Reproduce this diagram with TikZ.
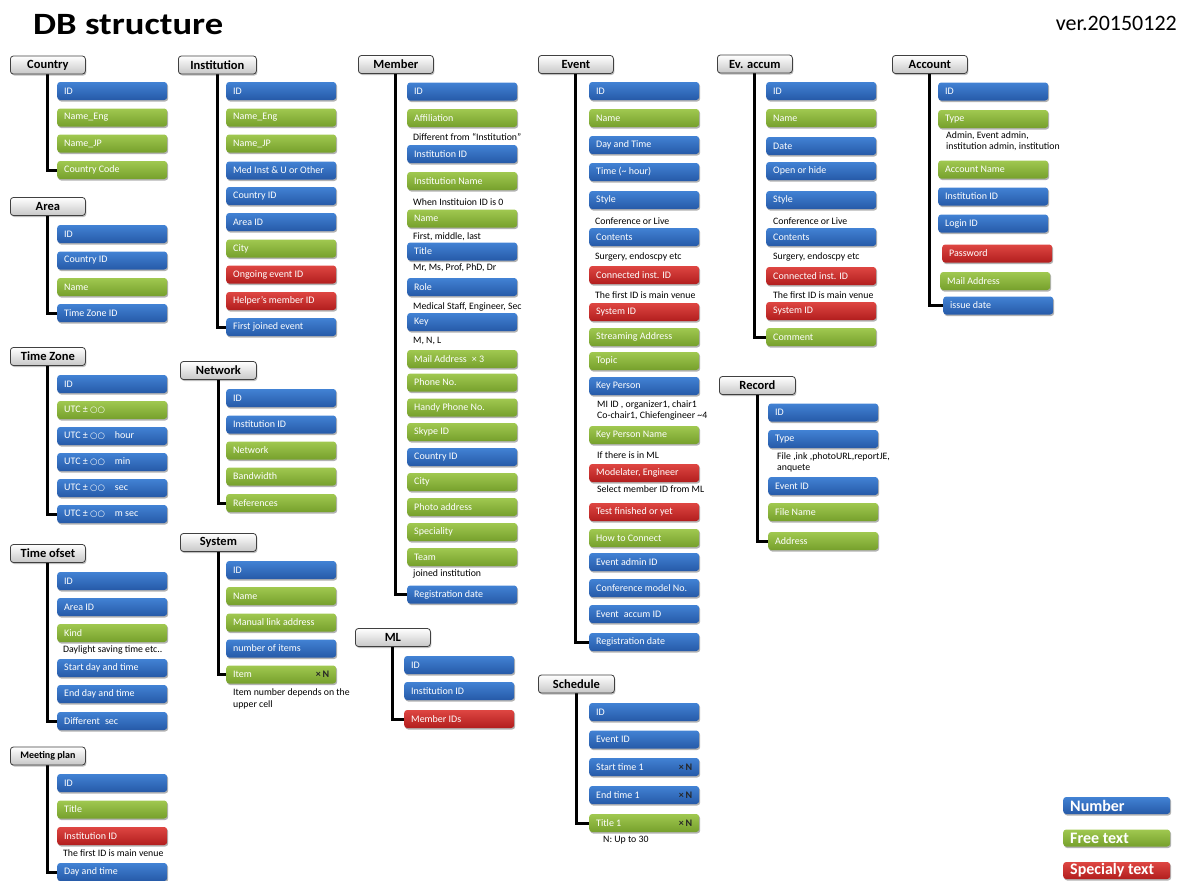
\documentclass[tikz,border=0pt]{standalone}
\usepackage{fontspec}
\usepackage{graphicx}
\setmainfont{Carlito}
\newfontfamily\symfont{DejaVu Sans}
\usetikzlibrary{shadows,backgrounds}

\definecolor{bTop}{RGB}{66,130,212}
\definecolor{bBot}{RGB}{38,90,168}
\definecolor{gTop}{RGB}{160,200,80}
\definecolor{gBot}{RGB}{118,160,44}
\definecolor{rTop}{RGB}{222,70,66}
\definecolor{rBot}{RGB}{178,30,30}

\tikzset{
  x=1pt, y=-1pt,
  field/.style={anchor=west, rounded corners=3pt, minimum height=18pt,
    inner xsep=7pt, inner ysep=0pt, text=white,
    font=\fontsize{10}{11}\selectfont,
    drop shadow={shadow xshift=1pt, shadow yshift=-1.5pt, opacity=0.3, fill=black}},
  num/.style={field, top color=bTop, bottom color=bBot},
  free/.style={field, top color=gTop, bottom color=gBot},
  spec/.style={field, top color=rTop, bottom color=rBot},
  hdr/.style={anchor=west, draw=black!75, line width=0.8pt, rounded corners=3pt,
    minimum width=75pt, minimum height=18pt, inner sep=0pt,
    top color=white, bottom color=black!22,
    font=\bfseries\fontsize{12.5}{14}\selectfont,
    drop shadow={shadow xshift=1pt, shadow yshift=-1.5pt, opacity=0.25, fill=black}},
  note/.style={anchor=west, inner sep=0pt, font=\fontsize{9.8}{11.5}\selectfont},
  conn/.style={line width=3pt},
  legendtext/.style={minimum height=17pt, font=\bfseries\fontsize{16}{18}\selectfont}
}

% one field of a table: style, name, west anchor, text
\newcommand\fld[4]{\node[#1] (#2) at (#3) {\makebox[96pt][l]{#4}};}
\newcommand\timesN{\textcolor{black!85}{\textbf{×\,N}}}
\newcommand\oo{{\symfont\fontsize{8.5}{10}\selectfont ○○}}

\begin{document}
\begin{tikzpicture}
\useasboundingbox (0,0) rectangle (1184,881);

\node[anchor=west, inner sep=0pt] (title) at (33,25)
  {\scalebox{1.18}[1]{\fontsize{31}{36}\selectfont\bfseries DB structure}};
\node[anchor=east, inner sep=0pt] (ver) at (1177,23)
  {\fontsize{22}{26}\selectfont ver.20150122};

% ---------- Country
\node[hdr] (country) at (10,65) {Country};
\fld{num}{co1}{57,91}{ID}
\fld{free}{co2}{57,117.5}{Name\_Eng}
\fld{free}{co3}{57,143.5}{Name\_JP}
\fld{free}{co4}{57,170}{Country Code}

% ---------- Area
\node[hdr] (area) at (10,206.5) {Area};
\fld{num}{ar1}{57,234}{ID}
\fld{num}{ar2}{57,260.5}{Country ID}
\fld{free}{ar3}{57,287}{Name}
\fld{num}{ar4}{57,313}{Time Zone ID}

% ---------- Time Zone
\node[hdr] (tz) at (10,356.5) {Time Zone};
\fld{num}{tz1}{57,384}{ID}
\fld{free}{tz2}{57,410}{UTC ± \oo}
\fld{num}{tz3}{57,436}{UTC ± \oo\quad hour}
\fld{num}{tz4}{57,462}{UTC ± \oo\quad min}
\fld{num}{tz5}{57,488}{UTC ± \oo\quad sec}
\fld{num}{tz6}{57,514}{UTC ± \oo\quad m sec}

% ---------- Time ofset
\node[hdr] (to) at (10,553.5) {Time ofset};
\fld{num}{to1}{57,581}{ID}
\fld{num}{to2}{57,607}{Area ID}
\fld{free}{to3}{57,633}{Kind}
\node[note] (to3n) at (63,650) {Daylight saving time etc..};
\fld{num}{to4}{57,668}{Start day and time}
\fld{num}{to5}{57,694}{End day and time}
\fld{num}{to6}{57,721}{Different\enspace sec}

% ---------- Meeting plan
\node[hdr, font=\bfseries\fontsize{10}{12}\selectfont] (mp) at (10,756) {Meeting plan};
\fld{num}{mp1}{57,783}{ID}
\fld{free}{mp2}{57,809.5}{Title}
\fld{spec}{mp3}{57,836}{Institution ID}
\node[note] (mp3n) at (63,853) {The first ID is main venue};
\fld{num}{mp4}{57,872}{Day and time}

% ---------- Institution
\node[hdr, minimum width=78pt] (inst) at (178,65) {Institution};
\fld{num}{in1}{226,91}{ID}
\fld{free}{in2}{226,117.5}{Name\_Eng}
\fld{free}{in3}{226,143.5}{Name\_JP}
\fld{num}{in4}{226,170.5}{Med Inst \& U or Other}
\fld{num}{in5}{226,196}{Country ID}
\fld{num}{in6}{226,222}{Area ID}
\fld{free}{in7}{226,248.5}{City}
\fld{spec}{in8}{226,274.5}{Ongoing event ID}
\fld{spec}{in9}{226,301}{Helper’s member ID}
\fld{num}{in10}{226,327}{First joined event}

% ---------- Network
\node[hdr, minimum width=76pt] (net) at (180,370.5) {Network};
\fld{num}{ne1}{226,398}{ID}
\fld{num}{ne2}{226,424.5}{Institution ID}
\fld{free}{ne3}{226,450.5}{Network}
\fld{free}{ne4}{226,476.5}{Bandwidth}
\fld{free}{ne5}{226,503}{References}

% ---------- System
\node[hdr, minimum width=76pt] (sys) at (180,542.5) {System};
\fld{num}{sy1}{226,570}{ID}
\fld{free}{sy2}{226,596}{Name}
\fld{free}{sy3}{226,622.5}{Manual link address}
\fld{num}{sy4}{226,648.5}{number of items}
\fld{free}{sy5}{226,674.5}{Item\hfill\timesN}
\node[note, align=left] (sy5n) at (233,699) {Item number depends on the\\upper cell};

% ---------- Member
\node[hdr] (mem) at (358,64.5) {Member};
\fld{num}{me1}{407,91.5}{ID}
\fld{free}{me2}{407,118}{Affiliation}
\node[note] (me2n) at (413,137) {Different from “Institution”};
\fld{num}{me3}{407,154}{Institution ID}
\fld{free}{me4}{407,181}{Institution Name}
\node[note] (me4n) at (413,202) {When Instituion ID is 0};
\fld{free}{me5}{407,218.5}{Name}
\node[note] (me5n) at (413,237) {First, middle, last};
\fld{num}{me6}{407,251.5}{Title}
\node[note] (me6n) at (413,268) {Mr, Ms, Prof, PhD, Dr};
\fld{num}{me7}{407,287}{Role}
\node[note] (me7n) at (413,307) {Medical Staff, Engineer, Sec};
\fld{num}{me8}{407,322}{Key}
\node[note] (me8n) at (413,341) {M, N, L};
\fld{free}{me9}{407,359}{Mail Address\enspace × 3}
\fld{free}{me10}{407,382.5}{Phone No.}
\fld{free}{me11}{407,407.5}{Handy Phone No.}
\fld{free}{me12}{407,432}{Skype ID}
\fld{num}{me13}{407,457}{Country ID}
\fld{free}{me14}{407,482}{City}
\fld{free}{me15}{407,507}{Photo address}
\fld{free}{me16}{407,532}{Speciality}
\fld{free}{me17}{407,557}{Team}
\node[note] (me17n) at (413,574) {joined institution};
\fld{num}{me18}{407,594.5}{Registration date}

% ---------- ML
\node[hdr] (ml) at (355,637.5) {ML};
\fld{num}{ml1}{404,665}{ID}
\fld{num}{ml2}{404,691}{Institution ID}
\fld{spec}{ml3}{404,719}{Member IDs}

% ---------- Event
\node[hdr] (ev) at (538,64.5) {Event};
\fld{num}{ev1}{589,91}{ID}
\fld{free}{ev2}{589,118}{Name}
\fld{num}{ev3}{589,145}{Day and Time}
\fld{num}{ev4}{589,172}{Time (\textasciitilde\ hour)}
\fld{num}{ev5}{589,200}{Style}
\node[note] (ev5n) at (595,221) {Conference or Live};
\fld{num}{ev6}{589,237}{Contents}
\node[note] (ev6n) at (595,257) {Surgery, endoscpy etc};
\fld{spec}{ev7}{589,275}{Connected inst. ID}
\node[note] (ev7n) at (595,295) {The first ID is main venue};
\fld{spec}{ev8}{589,312}{System ID}
\fld{free}{ev9}{589,337}{Streaming Address}
\fld{free}{ev10}{589,361}{Topic}
\fld{num}{ev11}{589,386}{Key Person}
\node[note, align=left] (ev11n) at (597,410.5) {MI ID , organizer1, chair1\\Co-chair1, Chiefengineer \textasciitilde4};
\fld{free}{ev12}{589,435}{Key Person Name}
\node[note] (ev12n) at (597,455) {If there is in ML};
\fld{spec}{ev13}{589,473}{Modelater, Engineer}
\node[note] (ev13n) at (597,489) {Select member ID from ML};
\fld{spec}{ev14}{589,512}{Test finished or yet}
\fld{free}{ev15}{589,538}{How to Connect}
\fld{num}{ev16}{589,562}{Event admin ID}
\fld{num}{ev17}{589,588}{Conference model No.}
\fld{num}{ev18}{589,614}{Event\enspace accum ID}
\fld{num}{ev19}{589,642}{Registration date}

% ---------- Schedule
\node[hdr, minimum width=76pt] (sc) at (538,684) {Schedule};
\fld{num}{sc1}{589,712}{ID}
\fld{num}{sc2}{589,739.5}{Event ID}
\fld{num}{sc3}{589,767}{Start time 1\hfill\timesN}
\fld{num}{sc4}{589,795}{End time 1\hfill\timesN}
\fld{free}{sc5}{589,823}{Title 1\hfill\timesN}
\node[note] (sc5n) at (603,840) {N: Up to 30};

% ---------- Ev. accum
\node[hdr] (ea) at (717,64) {Ev. accum};
\fld{num}{ea1}{766,91}{ID}
\fld{free}{ea2}{766,118}{Name}
\fld{num}{ea3}{766,146}{Date}
\fld{num}{ea4}{766,171}{Open or hide}
\fld{num}{ea5}{766,200}{Style}
\node[note] (ea5n) at (773,221) {Conference or Live};
\fld{num}{ea6}{766,237}{Contents}
\node[note] (ea6n) at (773,257) {Surgery, endoscpy etc};
\fld{spec}{ea7}{766,276}{Connected inst. ID}
\node[note] (ea7n) at (773,295) {The first ID is main venue};
\fld{spec}{ea8}{766,311}{System ID}
\fld{free}{ea9}{766,337}{Comment}

% ---------- Record
\node[hdr, minimum width=76pt] (rec) at (719,385.5) {Record};
\fld{num}{re1}{768,412.5}{ID}
\fld{num}{re2}{768,439}{Type}
\node[note, align=left] (re2n) at (777,462.5) {File ,ink ,photoURL,reportJE,\\anquete};
\fld{num}{re3}{768,486}{Event ID}
\fld{free}{re4}{768,512}{File Name}
\fld{free}{re5}{768,541}{Address}

% ---------- Account
\node[hdr] (acc) at (892,64.5) {Account};
\fld{num}{ac1}{938,91.5}{ID}
\fld{free}{ac2}{938,119}{Type}
\node[note, align=left] (ac2n) at (946,141) {Admin, Event admin,\\institution admin, institution};
\fld{free}{ac3}{938,169.5}{Account Name}
\fld{num}{ac4}{938,196.5}{Institution ID}
\fld{num}{ac5}{938,223.5}{Login ID}
\fld{spec}{ac6}{942,253.5}{Password}
\fld{free}{ac7}{940,281}{Mail Address}
\fld{num}{ac8}{943,305.5}{issue date}

% ---------- colour key
\node[num, legendtext] (lgN) at (1063,805.5) {\makebox[93pt][l]{Number}};
\node[free, legendtext] (lgF) at (1063,838) {\makebox[93pt][l]{Free text}};
\node[spec, legendtext] (lgS) at (1063,870.5) {\makebox[93pt][l]{Specialy text}};

% ---------- tree lines from each table header to its last field
\begin{scope}[on background layer]
  \draw[conn] (country.south) |- (co4.west);
  \draw[conn] (area.south) |- (ar4.west);
  \draw[conn] (tz.south) |- (tz6.west);
  \draw[conn] (to.south) |- (to6.west);
  \draw[conn] (mp.south) |- (mp4.west);
  \draw[conn] (inst.south) |- (in10.west);
  \draw[conn] (net.south) |- (ne5.west);
  \draw[conn] (sys.south) |- (sy5.west);
  \draw[conn] (mem.south) |- (me18.west);
  \draw[conn] (ml.south) |- (ml3.west);
  \draw[conn] (ev.south) |- (ev19.west);
  \draw[conn] (sc.south) |- (sc5.west);
  \draw[conn] (ea.south) |- (ea9.west);
  \draw[conn] (rec.south) |- (re5.west);
  \draw[conn] (acc.south) |- (ac8.west);
\end{scope}
\end{tikzpicture}
\end{document}
